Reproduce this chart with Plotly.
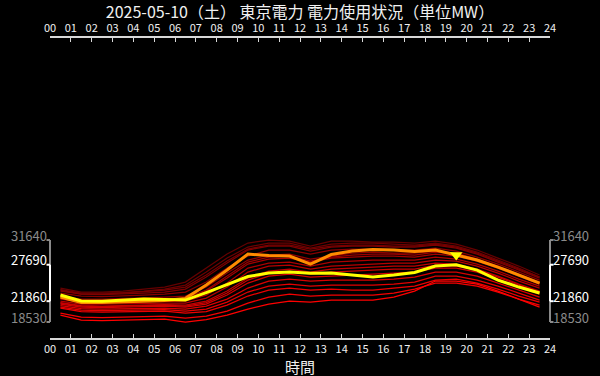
import plotly.graph_objects as go

title_text = "2025-05-10（土） 東京電力 電力使用状況（単位MW）"
x_title = "時間"
hours = [0.5, 1.5, 2.5, 3.5, 4.5, 5.5, 6.5, 7.5, 8.5, 9.5, 10.5, 11.5,
         12.5, 13.5, 14.5, 15.5, 16.5, 17.5, 18.5, 19.5, 20.5, 21.5, 22.5, 23.5]
hour_ticks = list(range(25))
hour_labels = [f"{h:02d}" for h in hour_ticks]

today = [22840, 21900, 21860, 22040, 22200, 22120, 22040, 23240, 24520, 25800, 26360, 26520,
         26310, 26360, 26040, 25720, 26040, 26440, 27480, 27690, 26840, 25240, 24120, 23160]
forecast = [22520, 21640, 21640, 21720, 21880, 21960, 22310, 24440, 26840, 29400, 29160, 29080,
            27800, 29320, 29880, 30120, 30040, 29800, 30040, 29240, 28440, 27320, 26040, 24760]

past = {
    "L1": [23960, 23320, 23320, 23480, 23800, 24120, 24920, 27160, 29400, 31160, 31640, 31480,
           30680, 31480, 31480, 31320, 31320, 31160, 31480, 31000, 30040, 28760, 27480, 26040],
    "L16": [23640, 23000, 23000, 23160, 23400, 23640, 24120, 26040, 28280, 30200, 30840, 30840,
            30200, 30680, 30840, 30840, 30680, 30680, 31000, 30520, 29560, 28280, 27000, 25720],
    "L2": [23720, 23160, 23160, 23240, 23480, 23800, 24440, 26520, 28760, 30520, 31160, 31160,
           30360, 31000, 31160, 31160, 31000, 30840, 31160, 30680, 29720, 28440, 27160, 25720],
    "L3": [23480, 23000, 22920, 23000, 23160, 23320, 23800, 25720, 27960, 30040, 30680, 30680,
           29880, 30520, 30680, 30680, 30520, 30520, 30840, 30360, 29400, 28120, 26840, 25560],
    "L4": [23160, 22680, 22600, 22680, 22840, 23000, 23320, 24920, 27160, 29080, 30040, 30040,
           29400, 30040, 30200, 30200, 30040, 30040, 30360, 29880, 28920, 27800, 26520, 25240],
    "L5": [22680, 22200, 22200, 22280, 22360, 22520, 22680, 24120, 26360, 28440, 29240, 29400,
           28600, 29080, 29560, 29720, 29560, 29560, 29880, 29560, 28600, 27480, 26200, 24920],
    "L17": [22520, 22040, 22040, 22120, 22200, 22280, 22360, 23640, 25880, 28120, 28920, 29080,
            28280, 28920, 29240, 29400, 29400, 29240, 29720, 29400, 28440, 27320, 26040, 24760],
    "L6": [22360, 21880, 21880, 21960, 22040, 22120, 22200, 23480, 25560, 27800, 28600, 28760,
           28120, 28760, 28920, 29080, 29080, 28920, 29400, 29080, 28280, 27160, 25880, 24600],
    "L7": [22200, 21720, 21640, 21720, 21800, 21880, 21880, 22840, 24760, 27160, 27960, 28120,
           27480, 28120, 28280, 28440, 28440, 28440, 28920, 28600, 27800, 26680, 25400, 24280],
    "L8": [21880, 21400, 21400, 21480, 21560, 21560, 21560, 22360, 24120, 26520, 27480, 27640,
           27000, 27480, 27640, 27800, 27960, 27960, 28440, 28280, 27480, 26360, 25080, 23960],
    "L18": [21560, 21080, 21000, 21080, 21160, 21240, 21080, 21640, 23160, 25240, 26360, 26680,
            26200, 26520, 26680, 26840, 27000, 27000, 27640, 27480, 26840, 25720, 24440, 23320],
    "L9": [21640, 21160, 21080, 21160, 21240, 21320, 21240, 21880, 23480, 25560, 26680, 27000,
           26520, 27000, 27160, 27320, 27480, 27480, 27960, 27800, 27000, 25880, 24600, 23480],
    "L10": [21400, 20920, 20840, 20920, 21000, 21080, 20920, 21400, 22840, 24760, 25880, 26200,
            25720, 25880, 26040, 26200, 26360, 26520, 27160, 27160, 26520, 25400, 24120, 23000],
    "L11": [21160, 20680, 20600, 20680, 20760, 20760, 20600, 21080, 22200, 23960, 25080, 25400,
            25080, 25240, 25240, 25240, 25400, 25720, 26520, 26520, 25880, 24760, 23640, 22520],
    "L12": [20920, 20440, 20360, 20440, 20520, 20520, 20280, 20600, 21720, 23320, 24280, 24600,
            24280, 24440, 24440, 24440, 24600, 24920, 25880, 25880, 25240, 24280, 23160, 22040],
    "L13": [20760, 20200, 20120, 20200, 20280, 20280, 19960, 20200, 21240, 22680, 23640, 23960,
            23640, 23800, 23640, 23640, 23960, 24280, 25240, 25400, 24760, 23800, 22680, 21720],
    "L14": [19960, 19320, 19240, 19320, 19480, 19480, 19160, 19480, 20280, 21560, 22520, 23000,
            22680, 22840, 22840, 22840, 23160, 23800, 24760, 24760, 24280, 23320, 22200, 21240],
    "L15": [19640, 18840, 18760, 18840, 19000, 19000, 18530, 18920, 19640, 20600, 21400, 21880,
            21720, 22040, 22040, 22040, 22520, 23480, 25080, 25080, 24600, 23480, 22200, 20920],
}

peak_hour = 19.5
peak_value = forecast[hours.index(peak_hour)]

all_vals = [v for s in past.values() for v in s] + today + forecast
overall_max = max(all_vals)
overall_min = min(all_vals)
today_max = max(today)
today_min = min(today)

FONT = "Noto Sans CJK JP, Noto Sans, sans-serif"
fig = go.Figure()

names = sorted(past.keys(), key=lambda k: -sum(past[k]))
n = len(names)
for i, k in enumerate(names):
    t = i / (n - 1)
    r = int(100 + (255 - 100) * t)
    fig.add_trace(go.Scatter(x=hours, y=past[k], mode="lines",
                             line=dict(color=f"rgb({r},0,0)", width=1.25),
                             hoverinfo="skip", showlegend=False))

fig.add_trace(go.Scatter(x=hours, y=forecast, mode="lines",
                         line=dict(color="#ff8c00", width=3), showlegend=False))
fig.add_trace(go.Scatter(x=hours, y=today, mode="lines",
                         line=dict(color="#ffff00", width=3), showlegend=False))
fig.add_trace(go.Scatter(x=[peak_hour], y=[peak_value], mode="markers",
                         marker=dict(symbol="triangle-down", size=11, color="#ffff00"),
                         showlegend=False))
fig.add_trace(go.Scatter(x=[0], y=[overall_min], xaxis="x2", yaxis="y2", mode="markers",
                         marker=dict(opacity=0), hoverinfo="skip", showlegend=False))

ytickvals = [overall_min, today_min, today_max, overall_max]
gray = "#8a8a8a"
white = "#ffffff"
yticktext = [f'<span style="color:{gray}">{overall_min}</span>',
             f'<span style="color:{white}">{today_min}</span>',
             f'<span style="color:{white}">{today_max}</span>',
             f'<span style="color:{gray}">{overall_max}</span>']

yrange = [15970, 63960]
axis_x_common = dict(range=[0, 24], tickvals=hour_ticks, ticktext=hour_labels,
                     showline=True, linecolor="#d8d8d8", linewidth=2,
                     ticks="inside", ticklen=4, tickcolor="#d8d8d8", tickwidth=1,
                     showgrid=False, zeroline=False, automargin=False,
                     tickfont=dict(color="#f0f0f0", size=11, family=FONT))
axis_y_common = dict(range=yrange, tickvals=ytickvals, ticktext=yticktext,
                     showline=False, showgrid=False, zeroline=False, ticks="",
                     automargin=False, ticklabelshift=-4, ticklabelstandoff=2,
                     tickfont=dict(size=13, family=FONT, color=white))

fig.update_layout(
    width=600, height=376,
    paper_bgcolor="black", plot_bgcolor="black",
    margin=dict(l=50, r=50, t=38, b=38),
    title=dict(text=title_text, x=0.5, xanchor="center", y=1 - 12 / 376, yanchor="middle",
               font=dict(size=16, color="#f0f0f0", family=FONT)),
    xaxis=dict(**axis_x_common),
    xaxis2=dict(**axis_x_common, overlaying="x", side="top"),
    yaxis=dict(**axis_y_common, side="left"),
    yaxis2=dict(**axis_y_common, overlaying="y", side="right"),
    showlegend=False,
    annotations=[dict(text=x_title, xref="paper", yref="paper", x=0.5, y=-28 / 300,
                      xanchor="center", yanchor="middle", showarrow=False,
                      font=dict(size=15, color="#f0f0f0", family=FONT))],
)

cap = 0.007
shapes = []
for side_x, dirn in [(0, -1), (1, 1)]:
    for (lo, hi, col) in [(overall_min, overall_max, "#8a8a8a"), (today_min, today_max, "#ffffff")]:
        shapes.append(dict(type="line", xref="paper", yref="y", x0=side_x, x1=side_x,
                           y0=lo, y1=hi, line=dict(color=col, width=2)))
        for yv in (lo, hi):
            shapes.append(dict(type="line", xref="paper", yref="y", x0=side_x,
                               x1=side_x + dirn * cap, y0=yv, y1=yv,
                               line=dict(color=col, width=2)))
fig.update_layout(shapes=shapes)

fig.write_html("out.html", config={"displayModeBar": False},
               post_script="document.body.style.margin='0';document.body.style.background='black';")
